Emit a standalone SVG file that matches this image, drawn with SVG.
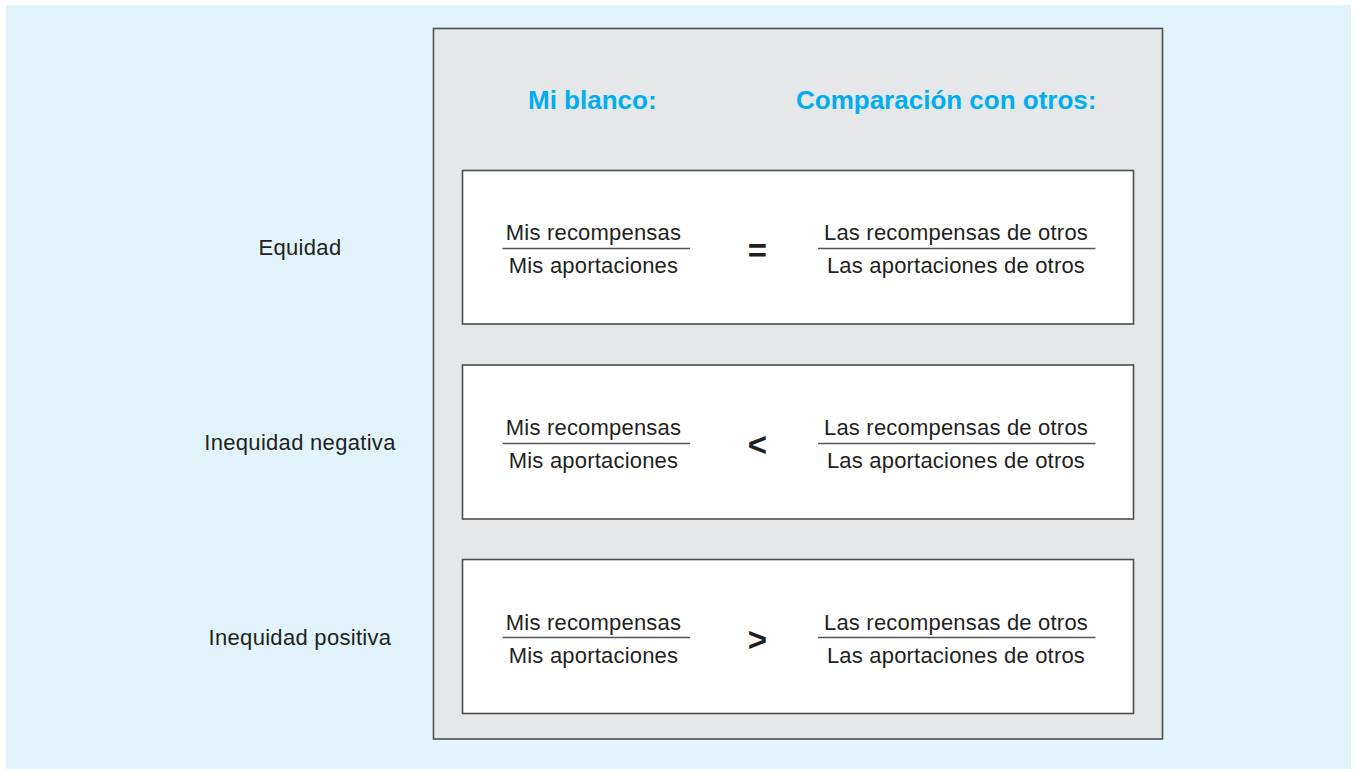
<svg xmlns="http://www.w3.org/2000/svg" width="1355" height="769" viewBox="0 0 1355 769">
<style>
.t{font-family:"Liberation Sans",Arial,sans-serif;fill:#231f20;font-size:22px;letter-spacing:0.2px}
.lab{font-family:"Liberation Sans",Arial,sans-serif;fill:#231f20;font-size:22px;letter-spacing:0.3px;text-anchor:middle}
.h{font-family:"Liberation Sans",Arial,sans-serif;fill:#00aeef;font-size:26px;font-weight:bold}
.op{font-family:"Liberation Sans",Arial,sans-serif;fill:#231f20;font-size:33px;font-weight:bold;text-anchor:middle}
.box{fill:#ffffff;stroke:#4d4d4d;stroke-width:1.6}
.bar{stroke:#555555;stroke-width:1.4}
.m{text-anchor:middle}
</style>
<rect x="0" y="0" width="1355" height="769" fill="#ffffff"/>
<rect x="6" y="5" width="1345" height="764" fill="#e1f4fb"/>
<g id="panel">
<rect x="433.5" y="28.5" width="729" height="710.5" fill="#e6e7e8" stroke="#4d4d4d" stroke-width="1.6"/>
<text class="h" x="528" y="109">Mi blanco:</text>
<text class="h" x="796" y="109">Comparación con otros:</text>
</g>
<g id="equidad">
<text class="lab" x="300" y="255">Equidad</text>
<rect class="box" x="462.5" y="170.5" width="671" height="153.5"/>
<text class="t m" x="593.5" y="240">Mis recompensas</text>
<line class="bar" x1="502.5" y1="248.5" x2="690" y2="248.5"/>
<text class="t m" x="593.5" y="273">Mis aportaciones</text>
<text class="op" x="757.5" y="261.5">=</text>
<text class="t m" x="956" y="240">Las recompensas de otros</text>
<line class="bar" x1="818" y1="248.5" x2="1095.5" y2="248.5"/>
<text class="t m" x="956" y="273">Las aportaciones de otros</text>
</g>
<g id="negativa">
<text class="lab" x="300" y="450">Inequidad negativa</text>
<rect class="box" x="462.5" y="365" width="671" height="154"/>
<text class="t m" x="593.5" y="435">Mis recompensas</text>
<line class="bar" x1="502.5" y1="443.5" x2="690" y2="443.5"/>
<text class="t m" x="593.5" y="468">Mis aportaciones</text>
<text class="op" x="757.5" y="455.5">&lt;</text>
<text class="t m" x="956" y="435">Las recompensas de otros</text>
<line class="bar" x1="818" y1="443.5" x2="1095.5" y2="443.5"/>
<text class="t m" x="956" y="468">Las aportaciones de otros</text>
</g>
<g id="positiva">
<text class="lab" x="300" y="645">Inequidad positiva</text>
<rect class="box" x="462.5" y="559.5" width="671" height="154"/>
<text class="t m" x="593.5" y="630">Mis recompensas</text>
<line class="bar" x1="502.5" y1="637.5" x2="690" y2="637.5"/>
<text class="t m" x="593.5" y="663">Mis aportaciones</text>
<text class="op" x="757.5" y="650.5">&gt;</text>
<text class="t m" x="956" y="630">Las recompensas de otros</text>
<line class="bar" x1="818" y1="637.5" x2="1095.5" y2="637.5"/>
<text class="t m" x="956" y="663">Las aportaciones de otros</text>
</g>
<g id="connectors"/>
</svg>
